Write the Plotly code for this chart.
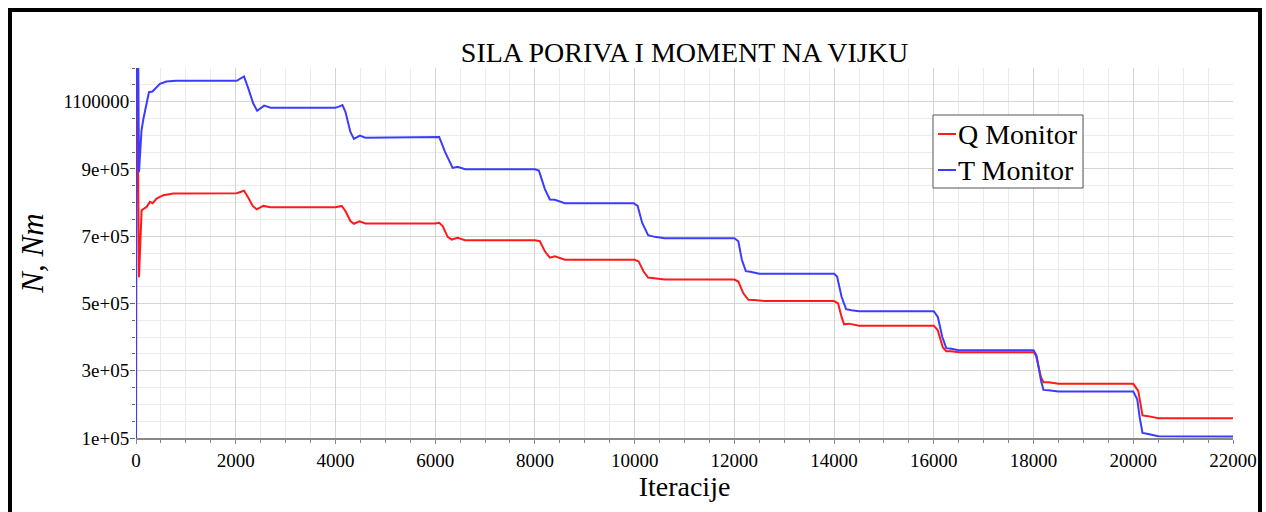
import plotly.graph_objects as go

# ---------------- data ----------------
t_iter = [0, 10, 60, 110, 150, 260, 330, 480, 610, 800, 2020, 2100, 2166, 2250, 2350, 2430, 2500, 2570, 2700,
          4000, 4070, 4140, 4200, 4300, 4370, 4490, 4600,
          6000, 6080, 6200, 6350, 6450, 6600,
          8000, 8080, 8200, 8300, 8400, 8600,
          9980, 10060, 10150, 10270, 10400, 10600,
          12000, 12080, 12150, 12230, 12320, 12500,
          14000, 14060, 14150, 14240, 14350, 14500,
          16000, 16080, 16170, 16250, 16350, 16500,
          18000, 18060, 18150, 18200, 18300, 18500,
          20000, 20080, 20130, 20185, 20300, 20500, 22000]
t_values = [0, 2.0e6, 8.9e5, 1.014e6, 1.05e6, 1.128e6, 1.13e6, 1.153e6, 1.16e6, 1.162e6, 1.162e6, 1.168e6, 1.175e6,
            1.14e6, 1.095e6, 1.073e6, 1.08e6, 1.088e6, 1.082e6,
            1.082e6, 1.085e6, 1.09e6, 1.07e6, 1.01e6, 9.89e5, 9.99e5, 9.93e5,
            9.93e5, 9.95e5, 9.5e5, 9.03e5, 9.06e5, 8.99e5,
            8.99e5, 8.95e5, 8.4e5, 8.09e5, 8.08e5, 7.98e5,
            7.98e5, 7.9e5, 7.4e5, 7.03e5, 6.98e5, 6.94e5,
            6.94e5, 6.85e5, 6.3e5, 5.96e5, 5.94e5, 5.88e5,
            5.88e5, 5.8e5, 5.2e5, 4.83e5, 4.8e5, 4.77e5,
            4.77e5, 4.6e5, 4.0e5, 3.67e5, 3.65e5, 3.61e5,
            3.61e5, 3.45e5, 2.7e5, 2.43e5, 2.42e5, 2.38e5,
            2.38e5, 2.15e5, 1.6e5, 1.15e5, 1.12e5, 1.05e5, 1.045e5]

q_iter = [0, 10, 60, 113, 213, 280, 333, 413, 547, 747, 2020, 2100, 2166, 2250, 2340, 2420, 2553, 2700,
          4000, 4124, 4200, 4300, 4372, 4480, 4600,
          6000, 6080, 6150, 6250, 6330, 6450, 6600,
          8000, 8100, 8200, 8300, 8400, 8600,
          10000, 10080, 10180, 10270, 10400, 10600,
          12000, 12080, 12180, 12280, 12400, 12600,
          14000, 14080, 14150, 14200, 14300, 14500,
          16000, 16080, 16180, 16250, 16350, 16500,
          18000, 18050, 18150, 18200, 18300, 18500,
          20000, 20060, 20100, 20185, 20300, 20500, 22000]
q_values = [0, 1.5e6, 5.78e5, 7.77e5, 7.87e5, 8.02e5, 7.98e5, 8.12e5, 8.22e5, 8.27e5, 8.28e5, 8.32e5, 8.35e5,
            8.15e5, 7.9e5, 7.8e5, 7.9e5, 7.86e5,
            7.86e5, 7.9e5, 7.75e5, 7.45e5, 7.37e5, 7.44e5, 7.38e5,
            7.38e5, 7.4e5, 7.3e5, 6.98e5, 6.9e5, 6.95e5, 6.88e5,
            6.88e5, 6.85e5, 6.55e5, 6.36e5, 6.4e5, 6.3e5,
            6.3e5, 6.25e5, 5.95e5, 5.77e5, 5.75e5, 5.71e5,
            5.71e5, 5.65e5, 5.3e5, 5.11e5, 5.1e5, 5.07e5,
            5.07e5, 5.0e5, 4.6e5, 4.38e5, 4.4e5, 4.34e5,
            4.34e5, 4.2e5, 3.7e5, 3.58e5, 3.58e5, 3.55e5,
            3.55e5, 3.45e5, 2.8e5, 2.66e5, 2.66e5, 2.61e5,
            2.61e5, 2.5e5, 2.4e5, 1.67e5, 1.65e5, 1.59e5, 1.59e5]

series_names = ["Q Monitor", "T Monitor"]
series_colors = ["#ff1a1a", "#3c3cff"]

y_tick_vals = [1e5, 3e5, 5e5, 7e5, 9e5, 1.1e6]
y_tick_text = ["1e+05", "3e+05", "5e+05", "7e+05", "9e+05", "1100000"]
x_tick_vals = [0, 2000, 4000, 6000, 8000, 10000, 12000, 14000, 16000, 18000, 20000, 22000]
x_tick_text = [str(v) for v in x_tick_vals]

FONT = "Liberation Serif, Times New Roman, serif"

fig = go.Figure()
fig.add_trace(go.Scatter(x=q_iter, y=q_values, mode="lines", name=series_names[0],
                         line=dict(color=series_colors[0], width=2), showlegend=False))
fig.add_trace(go.Scatter(x=t_iter, y=t_values, mode="lines", name=series_names[1],
                         line=dict(color=series_colors[1], width=2), showlegend=False))

L, R, T, B = 136, 33, 68, 74
W, H = 1266, 512
pw, ph = W - L - R, H - T - B

def px_x(px):
    return (px - L) / pw

def px_y(py):
    return 1 - (py - T) / ph

shapes = [
    # outer frame
    dict(type="rect", xref="paper", yref="paper",
         x0=px_x(10), x1=px_x(1260), y0=px_y(530), y1=px_y(10),
         line=dict(color="black", width=4), fillcolor="rgba(0,0,0,0)"),
    # legend box
    dict(type="rect", xref="paper", yref="paper",
         x0=px_x(933), x1=px_x(1083), y0=px_y(188), y1=px_y(115),
         line=dict(color="#555555", width=1), fillcolor="white", layer="above"),
]
annotations = []
legend_rows = [134, 170]
for name, color, row in zip(series_names, series_colors, legend_rows):
    shapes.append(dict(type="line", xref="paper", yref="paper",
                       x0=px_x(938), x1=px_x(956), y0=px_y(row), y1=px_y(row),
                       line=dict(color=color, width=2), layer="above"))
    annotations.append(dict(text=name, xref="paper", yref="paper", x=px_x(956), y=px_y(row),
                            xanchor="left", yanchor="middle", showarrow=False,
                            font=dict(size=28, family=FONT, color="black")))

fig.update_layout(
    width=W, height=H,
    margin=dict(l=L, r=R, t=T, b=B, autoexpand=False),
    paper_bgcolor="white", plot_bgcolor="white",
    font=dict(family=FONT, color="black", size=19),
    title=dict(text="SILA PORIVA I MOMENT NA VIJKU", xref="paper", x=0.5, xanchor="center",
               yref="container", y=1 - 52 / H, yanchor="middle",
               font=dict(size=28, family=FONT, color="black"), automargin=False),
    showlegend=False,
    shapes=shapes,
    annotations=annotations,
)

fig.update_xaxes(
    range=[0, 22000], tickvals=x_tick_vals, ticktext=x_tick_text, ticks="outside", ticklen=4,
    tickcolor="#888888", automargin=False,
    showline=True, linecolor="#888888", linewidth=2, layer="below traces",
    showgrid=True, gridcolor="#d4d4d4", gridwidth=1, zeroline=False,
    minor=dict(dtick=500, showgrid=True, gridcolor="#ebebeb", ticks="outside", ticklen=3, tickcolor="#888888"),
    tickfont=dict(size=19, family=FONT, color="black"),
    title=dict(text="Iteracije", font=dict(size=28, family=FONT, color="black"), standoff=6),
)
fig.update_yaxes(
    range=[1e5, 1.2e6], tickvals=y_tick_vals, ticktext=y_tick_text, ticks="outside", ticklen=5,
    tickcolor="#666666", showline=False, layer="below traces", automargin=False,
    ticklabelstandoff=-3,
    showgrid=True, gridcolor="#d4d4d4", gridwidth=1, zeroline=False,
    minor=dict(dtick=5e4, tick0=0, showgrid=True, gridcolor="#ebebeb", ticks="outside", ticklen=3, tickcolor="#666666"),
    tickfont=dict(size=19, family=FONT, color="black"),
    title=dict(text="<i>N, Nm</i>", font=dict(size=31, family=FONT, color="black"), standoff=10),
)

# remove the page's default 8px body margin so the figure fills the window exactly
fig.write_html("out.html", config={"displayModeBar": False},
               post_script="document.body.style.margin='0px';document.body.style.overflow='hidden';")
